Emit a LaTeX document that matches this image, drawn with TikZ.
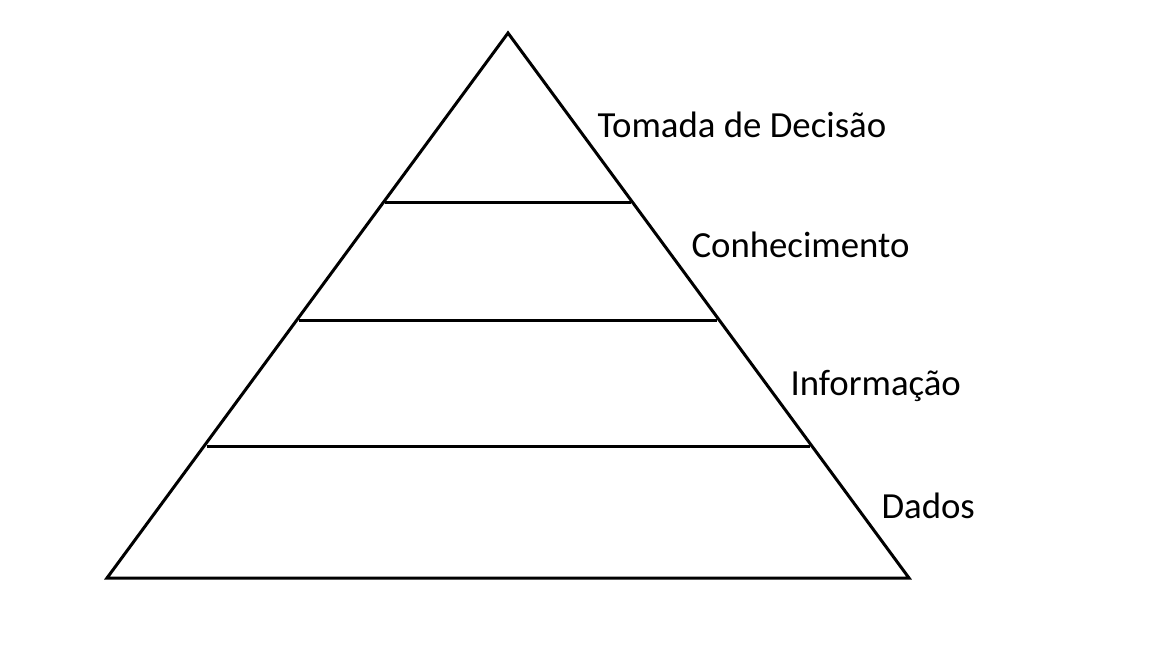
\documentclass[tikz,border=0pt]{standalone}
\usepackage{fontspec}
\setmainfont{Carlito}
\usetikzlibrary{calc,positioning}

\begin{document}
\begin{tikzpicture}[x=0.5pt, y=-0.5pt, line width=1.5pt]
\tikzset{levellabel/.style={font=\fontsize{18.4}{20}\selectfont,anchor=base west,inner sep=0}}

\useasboundingbox (0,0) rectangle (1152,648);

\coordinate (top) at (508, 33);
\coordinate (bl) at (107, 578);
\coordinate (br) at (909, 578);
\coordinate (l1) at (385, 202);
\coordinate (r1) at (631, 202);
\coordinate (l2) at (299, 320);
\coordinate (r2) at (717, 320);
\coordinate (l3) at (207, 446);
\coordinate (r3) at (810, 446);

%% Pyramid
\draw[line join=miter] (top) -- (br) -- (bl) -- cycle;
\foreach \u/\v in {l1/r1, l2/r2, l3/r3} \draw (\u) -- (\v);

%% Levels
\foreach \n/\x/\y/\lab in {dec/596/137/Tomada de Decisão, con/690/257/Conhecimento,
  inf/789/395/Informação, dad/880/518/Dados}
  \node (\n) [levellabel] at (\x, \y) {\lab};

\end{tikzpicture}
\end{document}
